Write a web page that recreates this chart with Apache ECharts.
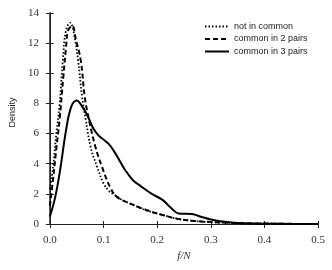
<!DOCTYPE html>
<html>
<head>
<meta charset="utf-8">
<script src="https://cdn.jsdelivr.net/npm/echarts@6/dist/echarts.min.js"></script>
<style>
html,body{margin:0;padding:0;background:#fff;}
#c{width:332px;height:270px;}
</style>
</head>
<body>
<div id="c"></div>
<script>
const seriesNames = ['not in common', 'common in 2 pairs', 'common in 3 pairs'];

const notCommonX = [0, 0.006, 0.012, 0.018, 0.024, 0.03, 0.038, 0.045, 0.0526, 0.06, 0.067, 0.076, 0.088, 0.1, 0.11, 0.12, 0.135, 0.15, 0.18, 0.21, 0.24, 0.27, 0.3, 0.35, 0.4, 0.45, 0.5];
const notCommonY = [2.3, 3.8, 6.0, 7.9, 10.8, 12.85, 13.35, 12.6, 10.86, 8.43, 6.9, 5.1, 3.8, 2.7, 2.2, 1.95, 1.6, 1.35, 0.9, 0.6, 0.33, 0.2, 0.12, 0.06, 0.03, 0.01, 0.0];

const pairs2X = [0, 0.006, 0.012, 0.018, 0.025, 0.03, 0.034, 0.042, 0.048, 0.0575, 0.065, 0.073, 0.085, 0.097, 0.112, 0.125, 0.149, 0.18, 0.21, 0.24, 0.27, 0.3, 0.35, 0.4, 0.45, 0.5];
const pairs2Y = [1.2, 3.0, 5.0, 6.9, 9.75, 11.7, 12.85, 13.15, 12.3, 10.86, 8.43, 6.9, 5.1, 3.8, 2.47, 1.8, 1.37, 0.93, 0.6, 0.33, 0.2, 0.13, 0.06, 0.03, 0.01, 0.0];

const pairs3X = [0, 0.01, 0.02, 0.03, 0.04, 0.05, 0.06, 0.07, 0.08, 0.09, 0.1, 0.11, 0.12, 0.13, 0.14, 0.155, 0.17, 0.19, 0.21, 0.225, 0.24, 0.265, 0.28, 0.3, 0.33, 0.36, 0.4, 0.45, 0.5];
const pairs3Y = [0.5, 1.8, 3.8, 6.2, 7.8, 8.2, 7.8, 7.2, 6.4, 5.9, 5.6, 5.3, 4.8, 4.2, 3.6, 2.9, 2.5, 2.0, 1.6, 1.1, 0.7, 0.66, 0.5, 0.3, 0.13, 0.05, 0.02, 0.005, 0.0];

const xTicks = [0, 0.1, 0.2, 0.3, 0.4, 0.5];
const yTicks = [0, 2, 4, 6, 8, 10, 12, 14];

function pairs(xs, ys) { return xs.map((x, i) => [x, ys[i]]); }

const axisColor = '#222';
const labelColor = '#333';
const serif = '"Liberation Serif", "DejaVu Serif", serif';
const sans = '"Liberation Sans", Arial, sans-serif';

const chart = echarts.init(document.getElementById('c'), null, {renderer: 'canvas'});
chart.setOption({
  animation: false,
  backgroundColor: '#fff',
  grid: {left: 45, right: 14, top: 13, bottom: 46, containLabel: false},
  legend: {
    orient: 'vertical',
    left: 199,
    top: 17,
    itemWidth: 24,
    itemHeight: 9,
    itemGap: 3.5,
    data: seriesNames,
    itemStyle: {color: 'transparent', borderColor: 'transparent', borderWidth: 0, opacity: 0},
    textStyle: {fontFamily: sans, fontSize: 9, color: '#222'}
  },
  xAxis: [{
    type: 'value',
    min: xTicks[0],
    max: xTicks[xTicks.length - 1],
    interval: 0.1,
    name: 'f/N',
    nameLocation: 'middle',
    nameGap: 21,
    nameTextStyle: {fontFamily: serif, fontStyle: 'italic', fontSize: 11, color: labelColor},
    axisLine: {show: true, lineStyle: {color: axisColor, width: 1}},
    axisTick: {show: true, inside: false, length: 4, lineStyle: {color: axisColor}},
    axisLabel: {margin: 11, fontFamily: serif, fontSize: 11, color: labelColor,
      formatter: v => v.toFixed(1)},
    splitLine: {show: false}
  }, {
    type: 'value',
    position: 'top',
    min: xTicks[0],
    max: xTicks[xTicks.length - 1],
    interval: 0.1,
    axisLine: {show: true, lineStyle: {color: axisColor, width: 1}},
    axisTick: {show: true, inside: false, length: 3, lineStyle: {color: axisColor}},
    axisLabel: {show: false},
    splitLine: {show: false}
  }],
  yAxis: [{
    type: 'value',
    min: yTicks[0],
    max: yTicks[yTicks.length - 1],
    interval: 2,
    name: 'Density',
    nameLocation: 'middle',
    nameGap: 30,
    nameTextStyle: {fontFamily: sans, fontSize: 9, color: '#222', padding: [0, 0, 0, 12]},
    axisLine: {show: true, lineStyle: {color: axisColor, width: 1}},
    axisTick: {show: true, inside: false, length: 4, lineStyle: {color: axisColor}},
    axisLabel: {margin: 11, fontFamily: serif, fontSize: 11, color: labelColor},
    splitLine: {show: false}
  }, {
    type: 'value',
    position: 'right',
    min: yTicks[0],
    max: yTicks[yTicks.length - 1],
    interval: 2,
    axisLine: {show: true, lineStyle: {color: axisColor, width: 1.5}},
    axisTick: {show: true, inside: false, length: 4, lineStyle: {color: axisColor}},
    axisLabel: {show: false},
    splitLine: {show: false}
  }],
  series: [{
    name: seriesNames[0],
    type: 'line',
    smooth: 0.4,
    showSymbol: false,
    symbol: 'none',
    data: pairs(notCommonX, notCommonY),
    lineStyle: {color: '#000', width: 1.8, type: [1.5, 2]},
    itemStyle: {color: '#000'}
  }, {
    name: seriesNames[1],
    type: 'line',
    smooth: 0.4,
    showSymbol: false,
    symbol: 'none',
    data: pairs(pairs2X, pairs2Y),
    lineStyle: {color: '#000', width: 2, type: [5, 3]},
    itemStyle: {color: '#000'}
  }, {
    name: seriesNames[2],
    type: 'line',
    smooth: 0.4,
    showSymbol: false,
    symbol: 'none',
    data: pairs(pairs3X, pairs3Y),
    lineStyle: {color: '#000', width: 2, type: 'solid'},
    itemStyle: {color: '#000'}
  }]
});
</script>
</body>
</html>
